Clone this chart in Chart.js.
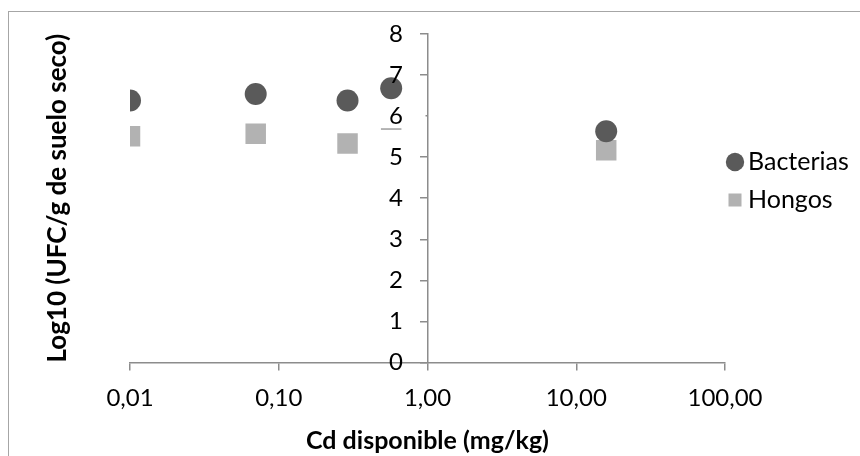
<!DOCTYPE html>
<html>
<head>
<meta charset="utf-8">
<script src="https://cdn.jsdelivr.net/npm/chart.js@4/dist/chart.umd.min.js"></script>
<style>
  html, body { margin: 0; padding: 0; background: #fff; overflow: hidden; }
  #marco { position: absolute; left: 8px; top: 11px; width: 1000px; height: 1000px; border: 1px solid #a6a6a6; }
  #grafico { position: absolute; left: 0; top: 0; }
</style>
</head>
<body>
<div id="marco"></div>
<canvas id="grafico" width="860" height="456"></canvas>
<script>
// datos
var cdDisponible = [0.01, 0.07, 0.29, 0.57, 15.9];
var bacterias = [6.38, 6.54, 6.38, 6.68, 5.63];
var hongos = [5.51, 5.57, 5.33, 5.91, 5.17];
var ticksX = [0.01, 0.1, 1, 10, 100];

function puntos(xs, ys) {
  var arr = [];
  for (var i = 0; i < xs.length; i++) {
    arr.push({ x: xs[i], y: ys[i] });
  }
  return arr;
}

var fuente = 'Lato';
var gris = '#8c8c8c';

// mover la leyenda a su sitio (queda un poco dentro del area del eje)
var ajusteLeyenda = {
  id: 'ajusteLeyenda',
  afterLayout: function (chart) {
    chart.legend.left = chart.chartArea.right - 3.5;
    chart.legend.right = 860;
    chart.legend.top = 136.5;
  }
};

var ctx = document.getElementById('grafico').getContext('2d');
var grafico = new Chart(ctx, {
  type: 'scatter',
  data: {
    datasets: [{
      label: 'Bacterias',
      data: puntos(cdDisponible, bacterias),
      yAxisID: 'y',
      pointStyle: 'circle',
      pointRadius: 11,
      pointHoverRadius: 11,
      backgroundColor: '#5a5a5a',
      borderColor: '#5a5a5a',
      borderWidth: 0
    }, {
      label: 'Hongos',
      data: puntos(cdDisponible, hongos),
      yAxisID: 'y',
      pointStyle: 'rect',
      pointRadius: 14.5,
      pointHoverRadius: 14.5,
      backgroundColor: '#b2b2b2',
      borderColor: '#b2b2b2',
      borderWidth: 0
    }]
  },
  options: {
    responsive: false,
    animation: false,
    devicePixelRatio: 1,
    layout: { padding: { left: 40, top: 34, right: 15, bottom: 0 } },
    plugins: {
      legend: {
        display: true,
        position: 'right',
        align: 'start',
        maxWidth: 120,
        labels: {
          usePointStyle: true,
          boxWidth: 1,
          boxHeight: 13,
          padding: 13,
          color: '#000',
          font: { family: fuente, size: 25 }
        }
      },
      tooltip: { enabled: false }
    },
    scales: {
      x: {
        type: 'logarithmic',
        min: 0.01,
        max: 100,
        afterBuildTicks: function (scale) {
          scale.ticks = ticksX.map(function (v) { return { value: v }; });
        },
        grid: { display: true, drawOnChartArea: false, drawTicks: true, tickLength: 8, color: gris, lineWidth: 1.5 },
        border: { display: true, color: gris, width: 1.5 },
        ticks: {
          padding: 14,
          color: '#000',
          font: { family: fuente, size: 24, lineHeight: 1.15 },
          maxRotation: 0,
          callback: function (value) {
            return Number(value).toFixed(2).replace('.', ',');
          }
        },
        title: {
          display: true,
          text: 'Cd disponible (mg/kg)',
          color: '#000',
          font: { family: fuente, size: 25, weight: 'bold' },
          padding: { top: 0, bottom: 0 }
        }
      },
      y: {
        type: 'linear',
        position: { x: 1 },
        min: 0,
        max: 8,
        grid: { display: true, drawOnChartArea: false, drawTicks: true, tickLength: 7, color: gris, lineWidth: 1.5 },
        border: { display: true, color: gris, width: 1.5 },
        ticks: {
          stepSize: 1,
          z: 1,
          color: '#000',
          font: { family: fuente, size: 24, lineHeight: 1 },
          // espacios para separar la etiqueta del eje
          callback: function (value) {
            return value + '    ';
          },
          showLabelBackdrop: true,
          backdropPadding: { left: 16, top: 0, right: -2, bottom: 0 },
          backdropColor: function (c) {
            // la etiqueta 6 tapa el cuadro de hongos como en el original
            return (c.tick && c.tick.value === 6) ? '#fff' : 'rgba(0,0,0,0)';
          }
        }
      },
      yt: {
        type: 'linear',
        position: 'left',
        grid: { display: false, drawTicks: false },
        border: { display: false },
        ticks: { display: false },
        title: {
          display: true,
          text: 'Log10 (UFC/g de suelo seco)',
          color: '#000',
          font: { family: fuente, size: 26, weight: 'bold' },
          padding: { top: 2, bottom: 56.8 }
        }
      }
    }
  },
  plugins: [ajusteLeyenda]
});
</script>
</body>
</html>
